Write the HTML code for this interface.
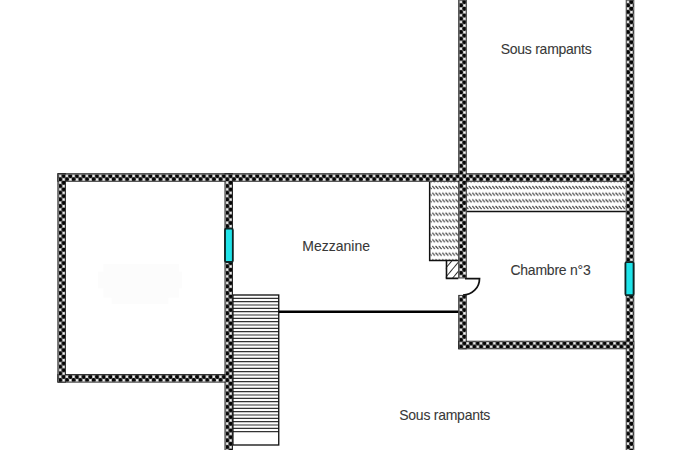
<!DOCTYPE html>
<html><head><meta charset="utf-8">
<style>
html,body{margin:0;padding:0;background:#fff;width:700px;height:450px;overflow:hidden}
svg{display:block}
text{font-family:"Liberation Sans",sans-serif;font-size:16.8px;fill:#383838;stroke:#383838;stroke-width:0.1px}
</style></head><body>
<svg width="700" height="450" viewBox="0 0 840 540">
<defs>
<pattern id="wp" patternUnits="userSpaceOnUse" x="-1.85" y="0.39" width="8.015" height="8.032"><rect width="8.015" height="8.032" fill="#999999"/><circle cx="6.01125" cy="2.008" r="2.45" fill="#050505"/><circle cx="2.00375" cy="6.024" r="2.45" fill="#050505"/><rect x="0.8537500000000002" y="0.8580000000000001" width="2.3" height="2.3" fill="#fff"/><rect x="4.86125" y="4.8740000000000006" width="2.3" height="2.3" fill="#fff"/></pattern>
<pattern id="ht" patternUnits="userSpaceOnUse" x="2.3" y="221" width="4" height="8"><line x1="0.4" y1="2.3" x2="3.6" y2="5.7" stroke="#444" stroke-width="1.45"/></pattern>
<pattern id="hd" patternUnits="userSpaceOnUse" width="14" height="7" patternTransform="rotate(-50)"><line x1="0" y1="0.5" x2="14" y2="0.5" stroke="#222" stroke-width="1.2"/></pattern>
</defs>

<g fill="#fcfcfc"><rect x="117.5" y="326" width="101" height="20"/><rect x="124" y="317" width="91" height="40"/><rect x="134" y="317" width="68" height="48"/></g>
<rect x="560" y="218" width="191" height="35.5" fill="url(#ht)"/>
<line x1="560" y1="253.8" x2="751" y2="253.8" stroke="#111" stroke-width="1.7"/>
<rect x="516.5" y="218" width="33.5" height="94.5" fill="url(#ht)"/>
<path d="M515.6 218 V312.7 H550" fill="none" stroke="#111" stroke-width="1.8"/>
<rect x="535" y="312.5" width="15" height="21.5" fill="url(#hd)"/>
<path d="M535.8 312.5 V334 H550" fill="none" stroke="#111" stroke-width="1.9"/>
<path d="M279.5 358H334.5 M279.5 362H334.5 M279.5 366H334.5 M279.5 370H334.5 M279.5 374H334.5 M279.5 378H334.5 M279.5 382H334.5 M279.5 386H334.5 M279.5 390H334.5 M279.5 394H334.5 M279.5 398H334.5 M279.5 402H334.5 M279.5 406H334.5 M279.5 410H334.5 M279.5 414H334.5 M279.5 418H334.5 M279.5 422H334.5 M279.5 426H334.5 M279.5 430H334.5 M279.5 434H334.5 M279.5 438H334.5 M279.5 442H334.5 M279.5 446H334.5 M279.5 450H334.5 M279.5 454H334.5 M279.5 458H334.5 M279.5 462H334.5 M279.5 466H334.5 M279.5 470H334.5 M279.5 474H334.5 M279.5 478H334.5 M279.5 482H334.5 M279.5 486H334.5 M279.5 490H334.5 M279.5 494H334.5 M279.5 498H334.5 M279.5 502H334.5 M279.5 506H334.5 M279.5 510H334.5 M279.5 514H334.5 M279.5 518H334.5" stroke="#333" stroke-width="1.4" fill="none"/>
<rect x="279.5" y="354" width="55" height="180" fill="none" stroke="#111" stroke-width="1.6"/>
<line x1="334.5" y1="374" x2="550" y2="374" stroke="#000" stroke-width="3"/>
<path d="M558 334.4 H575.4 A19.8 19.6 0 0 1 555.6 354" fill="none" stroke="#111" stroke-width="2.1"/>

<rect x="550.5" y="-9.5" width="9" height="343" fill="none" stroke="#222" stroke-width="1.2"/>
<rect x="550.5" y="354.5" width="9" height="64" fill="none" stroke="#222" stroke-width="1.2"/>
<rect x="751.5" y="-9.5" width="9" height="559" fill="none" stroke="#222" stroke-width="1.2"/>
<rect x="69.5" y="208.5" width="691" height="9" fill="none" stroke="#222" stroke-width="1.2"/>
<rect x="69.5" y="208.5" width="9" height="250" fill="none" stroke="#222" stroke-width="1.2"/>
<rect x="69.5" y="449.5" width="209.5" height="9" fill="none" stroke="#222" stroke-width="1.2"/>
<rect x="270.0" y="208.5" width="9" height="339" fill="none" stroke="#222" stroke-width="1.2"/>
<rect x="550.5" y="409.5" width="210" height="9" fill="none" stroke="#222" stroke-width="1.2"/>
<rect x="70" y="209" width="690" height="8" fill="url(#wp)"/>
<rect x="70" y="450" width="208.5" height="8" fill="url(#wp)"/>
<rect x="551" y="410" width="209" height="8" fill="url(#wp)"/>
<rect x="551" y="-9" width="8" height="342" fill="url(#wp)"/>
<rect x="551" y="355" width="8" height="63" fill="url(#wp)"/>
<rect x="752" y="-9" width="8" height="558" fill="url(#wp)"/>
<rect x="70" y="209" width="8" height="249" fill="url(#wp)"/>
<rect x="270.5" y="209" width="8" height="338" fill="url(#wp)"/>

<rect x="270" y="274.4" width="9.4" height="40" rx="1.5" fill="#1fe4ea" stroke="#0e2626" stroke-width="2.2"/>
<rect x="750.5" y="314.5" width="9.8" height="39.8" rx="1.5" fill="#1fe4ea" stroke="#0e2626" stroke-width="2.2"/>


<text x="600.8" y="64.3" textLength="109.3" lengthAdjust="spacing">Sous rampants</text>
<text x="362.8" y="301.5">Mezzanine</text>
<text x="612.5" y="329.8" textLength="96.4" lengthAdjust="spacing">Chambre n°3</text>
<text x="479.1" y="503.5" textLength="109.3" lengthAdjust="spacing">Sous rampants</text>

</svg>
</body></html>
